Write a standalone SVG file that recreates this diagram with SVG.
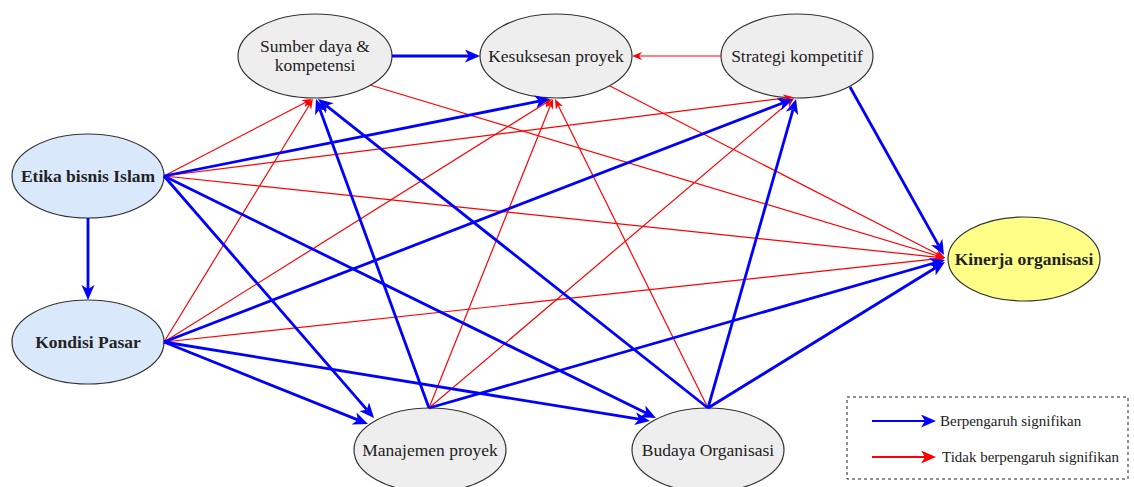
<svg xmlns="http://www.w3.org/2000/svg" width="1134" height="487" viewBox="0 0 1134 487">
  <style>
    .node { stroke: #333333; stroke-width: 1.2; }
    .grey { fill: #EEEEEE; }
    .blue-fill { fill: #DAE8FC; }
    .yellow { fill: #FFFF88; }
    text { font-family: "Liberation Serif", "Times New Roman", Times, "Nimbus Roman", "Noto Serif", "DejaVu Serif", Georgia, serif; fill: #222222; }
    .label { font-size: 17.5px; text-anchor: middle; }
    .bold { font-weight: bold; }
    .sig { stroke: #0000FF; stroke-width: 2.8; fill: none; marker-end: url(#head-blue); }
    .nonsig { stroke: #FF0000; stroke-width: 1.2; fill: none; marker-end: url(#head-red); }
    .legend-line { stroke-width: 2.2; }
    .legend-text { font-size: 15px; }
  </style>
  <defs>
    <marker id="head-blue" markerUnits="userSpaceOnUse" markerWidth="16" markerHeight="14" refX="4" refY="6.5" orient="auto">
      <path d="M0,0 L15,6.5 L0,13 L4,6.5 Z" fill="#0000FF"/>
    </marker>
    <marker id="head-red" markerUnits="userSpaceOnUse" markerWidth="11" markerHeight="9" refX="3" refY="4" orient="auto">
      <path d="M0,0 L10,4 L0,8 L3,4 Z" fill="#FF0000"/>
    </marker>
    <marker id="head-red-wide" markerUnits="userSpaceOnUse" markerWidth="16" markerHeight="14" refX="4" refY="6.5" orient="auto">
      <path d="M0,0 L15,6.5 L0,13 L4,6.5 Z" fill="#FF0000"/>
    </marker>
  </defs>

  <rect width="1134" height="487" fill="#FFFFFF"/>

  <!-- nodes -->
  <g id="sumber-daya">
    <ellipse class="node grey" cx="315" cy="56" rx="77" ry="42"/>
    <text class="label" x="315" y="52">Sumber daya &amp;</text>
    <text class="label" x="315" y="71">kompetensi</text>
  </g>
  <g id="kesuksesan-proyek">
    <ellipse class="node grey" cx="556" cy="56" rx="76" ry="42"/>
    <text class="label" x="556" y="62">Kesuksesan proyek</text>
  </g>
  <g id="strategi-kompetitif">
    <ellipse class="node grey" cx="797" cy="56" rx="76" ry="42"/>
    <text class="label" x="797" y="62">Strategi kompetitif</text>
  </g>
  <g id="etika-bisnis-islam">
    <ellipse class="node blue-fill" cx="88" cy="176" rx="76" ry="42"/>
    <text class="label bold" x="88" y="182">Etika bisnis Islam</text>
  </g>
  <g id="kondisi-pasar">
    <ellipse class="node blue-fill" cx="88" cy="342" rx="76" ry="42"/>
    <text class="label bold" x="88" y="348">Kondisi Pasar</text>
  </g>
  <g id="manajemen-proyek">
    <ellipse class="node grey" cx="430" cy="450" rx="76" ry="42"/>
    <text class="label" x="430" y="456">Manajemen proyek</text>
  </g>
  <g id="budaya-organisasi">
    <ellipse class="node grey" cx="708" cy="450" rx="76" ry="42"/>
    <text class="label" x="708" y="456">Budaya Organisasi</text>
  </g>
  <g id="kinerja-organisasi">
    <ellipse class="node yellow" cx="1024" cy="259" rx="76" ry="42"/>
    <text class="label bold" x="1024" y="265">Kinerja organisasi</text>
  </g>

  <!-- connectors -->
  <g id="connectors">
    <!-- not significant (red) -->
    <path class="nonsig" d="M721,56 L639,56"/>
    <path class="nonsig" d="M164,176 L305.8,102.2"/>
    <path class="nonsig" d="M164,176 L786.1,97.9"/>
    <path class="nonsig" d="M164,176 L938,257.3"/>
    <path class="nonsig" d="M164,342 L309.3,105"/>
    <path class="nonsig" d="M164,342 L546.1,102.7"/>
    <path class="nonsig" d="M164,342 L938,258.7"/>
    <path class="nonsig" d="M429,408 L550.4,105.5"/>
    <path class="nonsig" d="M429,408 L788.7,102.5"/>
    <path class="nonsig" d="M708,408 L558.1,105.3"/>
    <path class="nonsig" d="M370,85 L938.3,256"/>
    <path class="nonsig" d="M610,86 L938.8,254.8"/>

    <!-- significant (blue) -->
    <path class="sig" d="M392,56 L469,56"/>
    <path class="sig" d="M88,218 L88,289"/>
    <path class="sig" d="M164,176 L539.2,101.2"/>
    <path class="sig" d="M164,176 L366.8,409.7"/>
    <path class="sig" d="M164,176 L646.1,413.1"/>
    <path class="sig" d="M164,342 L782.7,103"/>
    <path class="sig" d="M164,342 L357.8,419.9"/>
    <path class="sig" d="M164,342 L639.1,419.2"/>
    <path class="sig" d="M429,408 L319.8,109.3"/>
    <path class="sig" d="M429,408 L934.4,263"/>
    <path class="sig" d="M708,408 L326.6,105.8"/>
    <path class="sig" d="M708,408 L793,109.6"/>
    <path class="sig" d="M708,408 L935.6,267.8"/>
    <path class="sig" d="M850,87 L938.6,245.4"/>
  </g>

  <!-- legend -->
  <g id="legend">
    <rect x="847" y="397" width="281" height="82" fill="none" stroke="#222222" stroke-width="1" stroke-dasharray="3 3"/>
    <path class="sig legend-line" d="M872,421 L925,421"/>
    <text class="legend-text" x="940" y="426">Berpengaruh signifikan</text>
    <path class="legend-line" d="M872,457 L925,457" stroke="#FF0000" fill="none" marker-end="url(#head-red-wide)"/>
    <text class="legend-text" x="942" y="462">Tidak berpengaruh signifikan</text>
  </g>
</svg>
